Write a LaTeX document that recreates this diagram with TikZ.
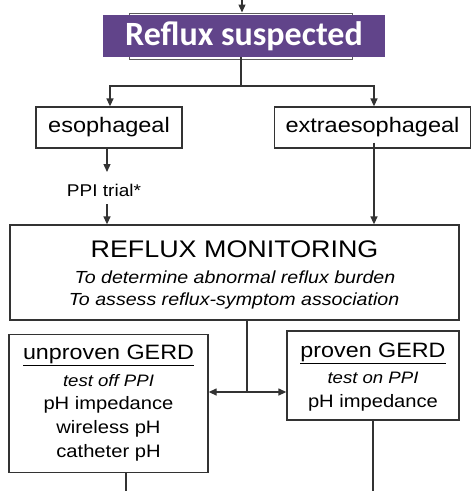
\documentclass[tikz,border=0pt]{standalone}
\usepackage{fontspec}
\setmainfont{Liberation Sans}
\newfontfamily\titlefont{Carlito}
\newfontfamily\widefont[FakeStretch=1.12]{Liberation Sans}
\usetikzlibrary{arrows.meta}
\definecolor{purp}{HTML}{61448A}
\definecolor{ink}{HTML}{333333}
\tikzset{
  boxstyle/.style={draw=ink, line width=1.3pt, inner sep=0pt},
  conn/.style={draw=ink, line width=1.3pt},
  arr/.style={conn, -{Triangle[length=8pt,width=7pt]}},
  bodytext/.style={font=\widefont\fontsize{18}{21}\selectfont},
  headtext/.style={font=\widefont\fontsize{20.8}{23}\selectfont},
  ittext/.style={font=\widefont\itshape\fontsize{16.6}{19}\selectfont},
}
\begin{document}
\begin{tikzpicture}[x=1pt,y=-1pt]
\useasboundingbox (0,0) rectangle (471,491);
% top incoming arrow
\coordinate (topin) at (242,0);
\node[draw=ink!80, line width=1pt, minimum width=223pt, minimum height=46pt, inner sep=0pt] (suspbg) at (240.5,36) {};
\draw[arr] (topin) -- (suspbg.north -| topin);
\node[fill=purp, minimum width=282pt, minimum height=42pt, inner sep=0pt, text=white, font=\titlefont\bfseries\fontsize{34}{36}\selectfont] (susp) at (244,36) {Reflux suspected};
% esophageal / extraesophageal
\node[boxstyle, minimum width=146pt, minimum height=41pt, font=\widefont\fontsize{21}{24}\selectfont] (eso) at (109,127.5) {esophageal};
\node[boxstyle, minimum width=196pt, minimum height=41pt, font=\widefont\fontsize{21}{24}\selectfont] (extra) at (372.5,127.5) {extraesophageal};
\coordinate (split) at (241,86);
\draw[conn] (susp.south -| split) -- (split);
\draw[arr] (split) -| (eso.north -| 110,0);
\draw[arr] (split) -| (extra.north -| 374,0);
% PPI trial
\node[font=\widefont\fontsize{17}{20}\selectfont] (ppi) at (104,190) {PPI trial*};
% monitoring
\node[boxstyle, minimum width=449pt, minimum height=95pt] (mon) at (234.5,272.5) {};
\node[font=\widefont\fontsize{24}{26}\selectfont] (montitle) at (234.5,249) {REFLUX MONITORING};
\node[font=\widefont\itshape\fontsize{17.5}{20}\selectfont] (mon1) at (235,277) {To determine abnormal reflux burden};
\node[font=\widefont\itshape\fontsize{17.5}{20}\selectfont] (mon2) at (234,301) {To assess reflux-symptom association};
\draw[arr] (eso.south -| 107,0) -- (107,172);
\draw[arr] (107,204) -- (mon.north -| 107,0);
\draw[arr] ([yshift=6pt]extra.south -| 374,0) -- (mon.north -| 374,0);
% GERD boxes
\node[boxstyle, minimum width=199pt, minimum height=138pt] (unp) at (108.5,403.5) {};
\node[boxstyle, minimum width=172pt, minimum height=89pt] (prov) at (373,375.5) {};
\node[headtext] (u1) at (108.5,355) {\underline{unproven GERD}};
\node[ittext] (u2) at (108.5,381) {test off PPI};
\node[bodytext] (u3) at (108.5,405) {pH impedance};
\node[bodytext] (u4) at (108.5,429) {wireless pH};
\node[bodytext] (u5) at (108.5,453) {catheter pH};
\node[headtext] (p1) at (373,353) {\underline{proven GERD}};
\node[ittext] (p2) at (373,378) {test on PPI};
\node[bodytext] (p3) at (373,403) {pH impedance};
\coordinate (fork) at (247,392);
\draw[conn] (mon.south -| fork) -- (fork);
\draw[arr] (fork) -- (unp.east |- fork);
\draw[arr] (fork) -- (prov.west |- fork);
\coordinate (outl) at (126,491);
\coordinate (outr) at (373,491);
\draw[conn] (unp.south -| outl) -- (outl);
\draw[conn] (prov.south -| outr) -- (outr);
\end{tikzpicture}
\end{document}
